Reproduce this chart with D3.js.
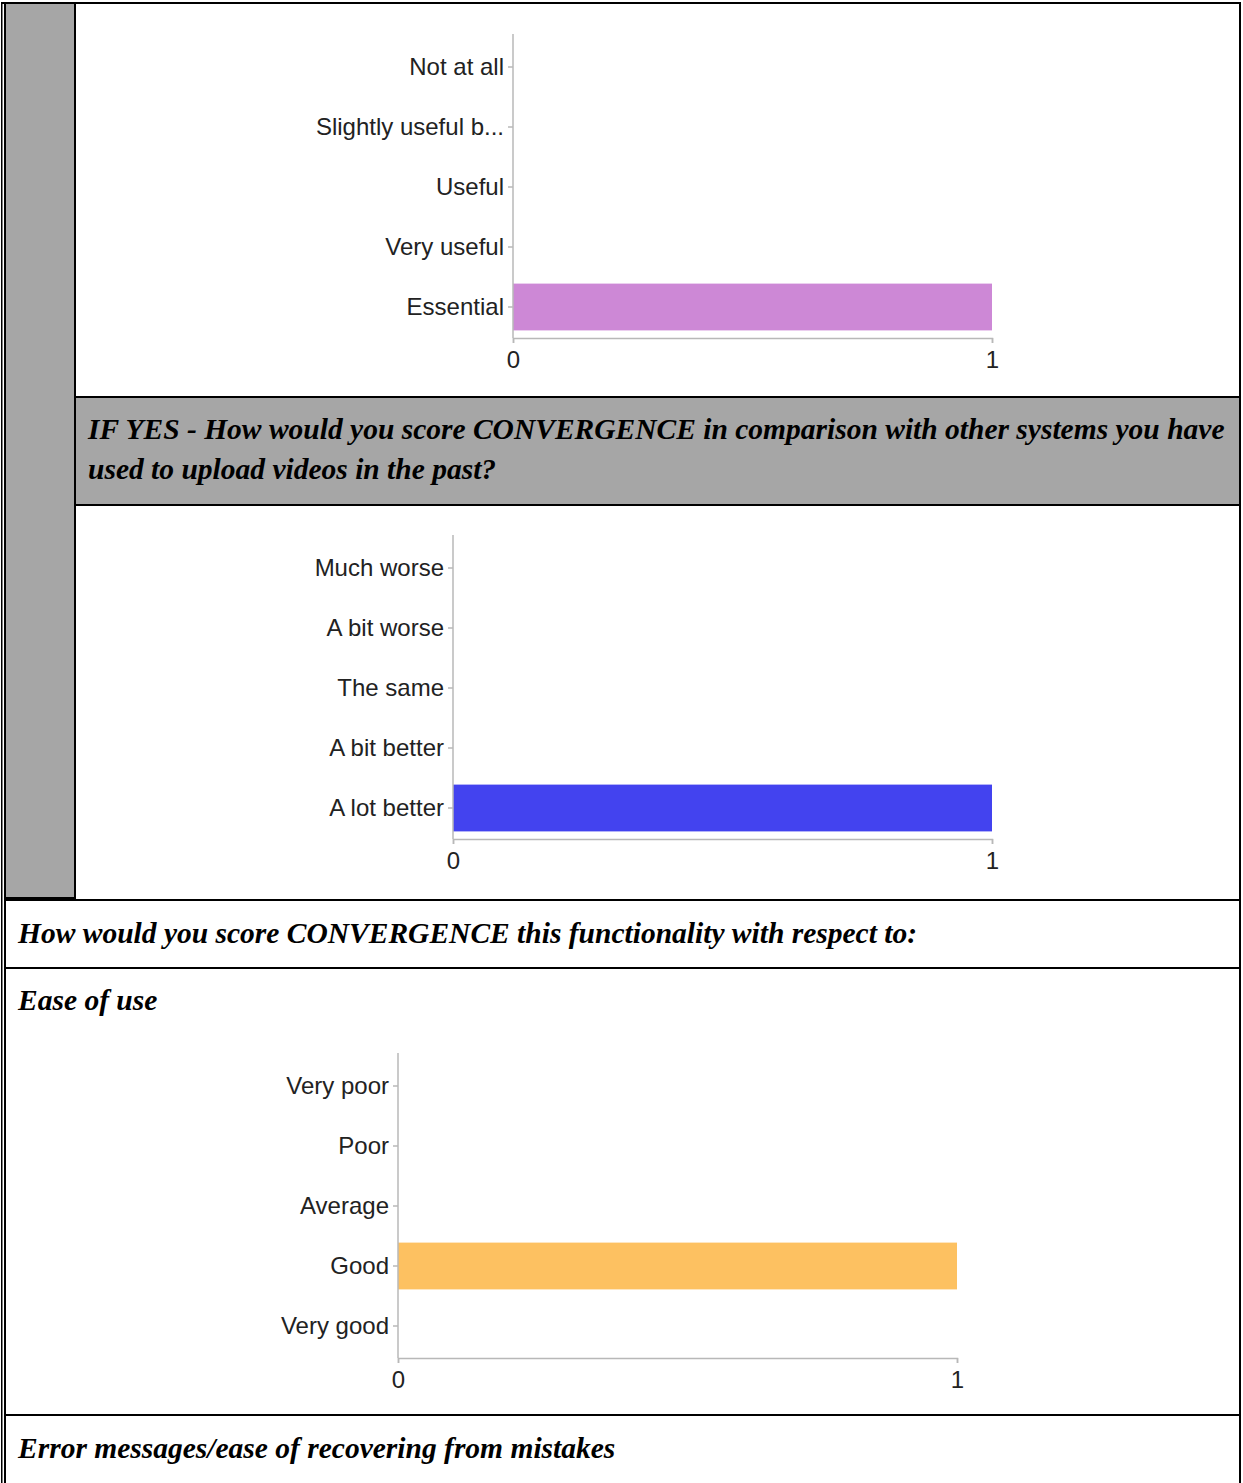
<!DOCTYPE html>
<html><head><meta charset="utf-8">
<script src="https://cdn.jsdelivr.net/npm/d3@7"></script>
<style>
html,body{margin:0;padding:0;background:#fff;}
svg{display:block;}
</style></head>
<body>
<script>
// ---- data ----
const usefulCategories = ["Not at all", "Slightly useful b...", "Useful", "Very useful", "Essential"];
const usefulValues = [0, 0, 0, 0, 1];
const compareCategories = ["Much worse", "A bit worse", "The same", "A bit better", "A lot better"];
const compareValues = [0, 0, 0, 0, 1];
const easeCategories = ["Very poor", "Poor", "Average", "Good", "Very good"];
const easeValues = [0, 0, 0, 1, 0];
const xTickValues = [0, 1];
const headerLines = ["IF YES - How would you score CONVERGENCE in comparison with other systems you have", "used to upload videos in the past?"];
const rowTexts = ["How would you score CONVERGENCE this functionality with respect to:", "Ease of use", "Error messages/ease of recovering from mistakes"];

const W = 1243, H = 1483;
const svg = d3.select("body").append("svg").attr("width", W).attr("height", H);

// ---- table structure ----
const black = "#000";
function hline(x1, x2, y, w) { svg.append("rect").attr("x", x1).attr("y", y).attr("width", x2 - x1).attr("height", w || 2).attr("fill", black); }
function vline(x, y1, y2, w) { svg.append("rect").attr("x", x).attr("y", y1).attr("width", w || 2).attr("height", y2 - y1).attr("fill", black); }

svg.append("rect").attr("x", 6).attr("y", 4).attr("width", 68).attr("height", 894).attr("fill", "#a6a6a6");
svg.append("rect").attr("x", 76).attr("y", 398).attr("width", 1163).attr("height", 106).attr("fill", "#a6a6a6");

hline(2, 1241, 2);
vline(1, 2, H, 1.5);
vline(4, 2, H, 2);
vline(1239, 2, H, 2);
vline(74, 4, 899, 2);
hline(76, 1240, 396);
hline(76, 1240, 504);
hline(4, 75, 897);
hline(6, 1240, 899);
hline(6, 1240, 967);
hline(6, 1240, 1414);

// ---- header texts ----
const serif = "'Liberation Serif','Times New Roman',serif";
const ht = svg.append("g").attr("font-family", serif).attr("font-weight", "bold").attr("font-style", "italic").attr("font-size", 29.5).attr("fill", "#000");
ht.append("text").attr("x", 88).attr("y", 439).text(headerLines[0]);
ht.append("text").attr("x", 88).attr("y", 479).text(headerLines[1]);
ht.append("text").attr("x", 18).attr("y", 943).text(rowTexts[0]);
ht.append("text").attr("x", 18).attr("y", 1010).text(rowTexts[1]);
ht.append("text").attr("x", 18).attr("y", 1458).text(rowTexts[2]);

// ---- bar charts ----
const sans = "'Liberation Sans',Arial,sans-serif";
function barChart(cats, vals, color, x0, x1, yTop, yBottom, axisY) {
  const g = svg.append("g");
  const x = d3.scaleLinear().domain([0, 1]).range([x0, x1]);
  const y = d3.scaleBand().domain(cats).range([yTop, yBottom]).paddingInner(0.22).paddingOuter(0.11);
  g.selectAll("rect.bar").data(cats.map((c, i) => ({ c, v: vals[i] })).filter(d => d.v > 0))
    .enter().append("rect").attr("class", "bar")
    .attr("x", x(0)).attr("y", d => y(d.c))
    .attr("width", d => x(d.v) - x(0)).attr("height", y.bandwidth())
    .attr("fill", color);
  const ya = g.append("g").attr("transform", `translate(${x(0)},0)`)
    .call(d3.axisLeft(y).tickSize(5).tickSizeOuter(0).tickPadding(4));
  ya.select(".domain").remove();
  g.append("line").attr("x1", x(0)).attr("x2", x(0)).attr("y1", yTop - 3).attr("y2", axisY)
    .attr("stroke", "#b8b8b8").attr("stroke-width", 1.5);
  const xa = g.append("g").attr("transform", `translate(0,${axisY})`)
    .call(d3.axisBottom(x).tickValues(xTickValues).tickFormat(d3.format("d")).tickSize(5).tickSizeOuter(5).tickPadding(8));
  [ya, xa].forEach(a => {
    a.attr("font-family", sans).attr("font-size", 24);
    a.selectAll("text").attr("fill", "#222");
    a.selectAll("line, path").attr("stroke", "#b8b8b8").attr("stroke-width", 1.5);
  });
}

barChart(usefulCategories, usefulValues, "#cd88d6", 513, 992, 37, 337, 338);
barChart(compareCategories, compareValues, "#4343ef", 453, 992, 538, 838, 839);
barChart(easeCategories, easeValues, "#fdc161", 398, 957, 1056, 1356, 1358);
</script>
</body></html>
